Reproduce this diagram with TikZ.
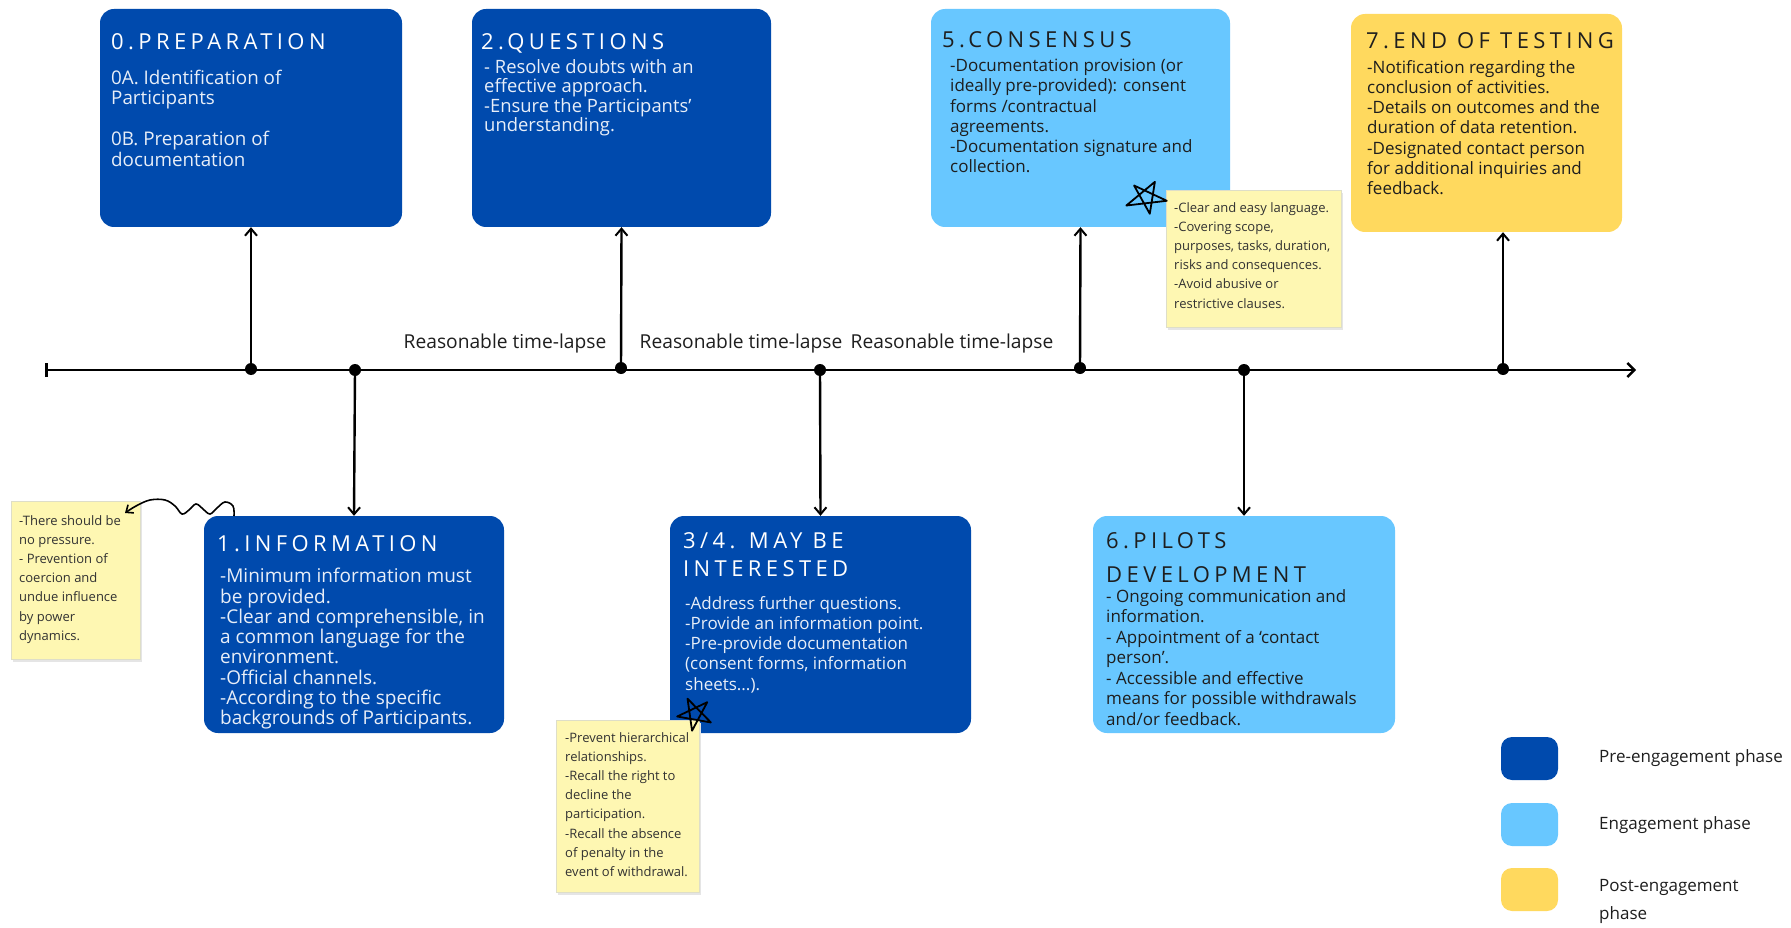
\documentclass[tikz,border=0pt]{standalone}
\usepackage{fontspec}
\setmainfont{Open Sans}
\usetikzlibrary{arrows.meta,calc}
\definecolor{preblue}{RGB}{0,74,173}
\definecolor{engblue}{RGB}{104,199,255}
\definecolor{postyellow}{RGB}{255,217,94}
\definecolor{notefill}{RGB}{254,247,178}
\definecolor{noteedge}{RGB}{222,222,200}
\definecolor{bodywhite}{RGB}{232,238,248}
\definecolor{ink}{RGB}{30,30,30}
\definecolor{noteink}{RGB}{50,50,50}
\newfontfamily\ttlfont[LetterSpace=20]{Open Sans}
\begin{document}
\begin{tikzpicture}[x=1pt,y=-1pt,
  phase/.style={rounded corners=14pt,draw=none,inner sep=0pt},
  ttl/.style={anchor=north west,inner sep=0pt,align=left,font=\ttlfont\fontsize{22}{28}\selectfont},
  body/.style={anchor=north west,inner sep=0pt,align=left,font=\fontsize{17}{20.2}\selectfont},
  notebox/.style={fill=notefill,draw=noteedge,line width=0.6pt,inner sep=0pt},
  notetxt/.style={anchor=north west,inner sep=0pt,align=left,text=noteink,font=\fontsize{13}{19.2}\selectfont},
  dot/.style={circle,fill=black,inner sep=0pt,minimum size=12pt},
  conn/.style={line width=2.4pt,-{Straight Barb[length=7pt,width=12pt,line width=2pt]}},
  lapse/.style={text=ink,font=\fontsize{19.2}{22}\selectfont,inner sep=0pt},
  legtxt/.style={anchor=west,text=ink,inner sep=0pt,align=left,font=\fontsize{17}{28}\selectfont},
  starpen/.style={line width=1.8pt,line join=round,black}
]
\useasboundingbox[fill=white] (0,0) rectangle (1791,928);

% timeline
\coordinate (tlA) at (45,370);
\coordinate (tlB) at (1636,370);
\draw[line width=2.6pt,{Bar[width=14pt,line width=2.6pt]}-{Straight Barb[length=7pt,width=14pt,line width=2.4pt]}] (tlA) -- (tlB);

% phase boxes
\node[phase,fill=preblue,minimum width=302pt,minimum height=218pt] (b0) at (251,118) {};
\node[phase,fill=preblue,minimum width=299pt,minimum height=218pt] (b2) at (621.5,118) {};
\node[phase,fill=engblue,minimum width=299pt,minimum height=218pt] (b5) at (1080.5,118) {};
\node[phase,fill=postyellow,minimum width=271pt,minimum height=218pt] (b7) at (1486.5,123) {};
\node[phase,fill=preblue,minimum width=300pt,minimum height=217pt] (b1) at (354,624.5) {};
\node[phase,fill=preblue,minimum width=301pt,minimum height=217pt] (b3) at (820.5,624.5) {};
\node[phase,fill=engblue,minimum width=302pt,minimum height=217pt] (b6) at (1244,624.5) {};

% box texts
\node[ttl,text=white] (t0) at (111,33) {0.PREPARATION};
\node[body,text=bodywhite,font=\fontsize{18.8}{20.2}\selectfont] (x0) at (111,70) {0A. Identification of\\Participants\\[21pt]0B. Preparation of\\documentation};

\node[ttl,text=white] (t2) at (481,33) {2.QUESTIONS};
\node[body,text=bodywhite,font=\fontsize{18.4}{19.5}\selectfont] (x2) at (484,59) {- Resolve doubts with an\\effective approach.\\-Ensure the Participants’\\understanding.};

\node[ttl,text=ink] (t5) at (942,31) {5.CONSENSUS};
\node[body,text=ink] (x5) at (950,59) {-Documentation provision (or\\ideally pre-provided): consent\\forms /contractual\\agreements.\\-Documentation signature and\\collection.};

\node[ttl,text=ink] (t7) at (1366,32) {7.END OF TESTING};
\node[body,text=ink] (x7) at (1367,60) {-Notification regarding the\\conclusion of activities.\\-Details on outcomes and the\\duration of data retention.\\-Designated contact person\\for additional inquiries and\\feedback.};

\node[ttl,text=white] (t1) at (217,535) {1.INFORMATION};
\node[body,text=bodywhite,font=\fontsize{19}{20.3}\selectfont] (x1) at (220,568) {-Minimum information must\\be provided.\\-Clear and comprehensible, in\\a common language for the\\environment.\\-Official channels.\\-According to the specific\\backgrounds of Participants.};

\node[ttl,text=white] (t3) at (683,532) {3/4. MAY BE\\INTERESTED};
\node[body,text=bodywhite] (x3) at (685,596) {-Address further questions.\\-Provide an information point.\\-Pre-provide documentation\\(consent forms, information\\sheets...).};

\node[ttl,text=ink,font=\ttlfont\fontsize{22}{34}\selectfont] (t6) at (1106,532) {6.PILOTS\\DEVELOPMENT};
\node[body,text=ink,font=\fontsize{17}{20.5}\selectfont] (x6) at (1106,589) {- Ongoing communication and\\information.\\- Appointment of a ‘contact\\person’.\\- Accessible and effective\\means for possible withdrawals\\and/or feedback.};

% dots on timeline
\node[dot] (d0) at (251,369) {};
\node[dot] (d1) at (355,370) {};
\node[dot] (d2) at (621,368) {};
\node[dot] (d3) at (820,370) {};
\node[dot] (d5) at (1080,368) {};
\node[dot] (d6) at (1244,370) {};
\node[dot] (d7) at (1503,369) {};

% connectors
\draw[conn] (d0.center) -- (b0.south);
\draw[conn] (d2.center) -- (b2.south);
\draw[conn] (d5.center) -- (b5.south);
\draw[conn] (d7.center) -- (d7 |- b7.south);
\draw[conn] (d1.center) -- (b1.north);
\draw[conn] (d3.center) -- (b3.north);
\draw[conn] (d6.center) -- (b6.north);

% time-lapse labels
\node[lapse] (l1) at (505,344) {Reasonable time-lapse};
\node[lapse] (l2) at (741,344) {Reasonable time-lapse};
\node[lapse] (l3) at (952,344) {Reasonable time-lapse};

% sticky notes
\fill[black!10] (13,504) rectangle (142,662);
\node[notebox,minimum width=129pt,minimum height=158pt] (nA) at (75.5,580) {};
\node[notetxt] (nAt) at (19,515) {-There should be\\no pressure.\\- Prevention of\\coercion and\\undue influence\\by power\\dynamics.};

\fill[black!10] (558,723) rectangle (701,895);
\node[notebox,minimum width=143pt,minimum height=172pt] (nB) at (627.5,806) {};
\node[notetxt] (nBt) at (565,732) {-Prevent hierarchical\\relationships.\\-Recall the right to\\decline the\\participation.\\-Recall the absence\\of penalty in the\\event of withdrawal.};

\fill[black!10] (1168,193) rectangle (1343,330);
\node[notebox,minimum width=175pt,minimum height=137pt] (nC) at (1253.5,258.5) {};
\node[notetxt] (nCt) at (1174,202) {-Clear and easy language.\\-Covering scope,\\purposes, tasks, duration,\\risks and consequences.\\-Avoid abusive or\\restrictive clauses.};

% hand-drawn stars
\coordinate (sB) at (695,714);
\draw[starpen] ($(sB)+(100:17)$) -- ($(sB)+(244:17)$) -- ($(sB)+(28:18)$) -- ($(sB)+(172:18)$) -- ($(sB)+(316:17)$) -- cycle;
\coordinate (sC) at (1147,198);
\draw[starpen] ($(sC)+(80:16)$) -- ($(sC)+(224:18)$) -- ($(sC)+(8:20)$) -- ($(sC)+(160:22)$) -- ($(sC)+(296:18)$) -- cycle;

% curly connector from box 1 to note A
\coordinate (sqS) at (234,516);
\coordinate (sqE) at (125,513);
\draw[line width=1.6pt,-{Straight Barb[length=6pt,width=10pt,line width=1.6pt]}] plot[smooth,tension=0.6] coordinates {(sqS) (233,506) (225,502) (217,508) (210,514) (203,509) (196,504) (189,510) (182,514) (175,506) (165,500) (150,500) (136,506) (sqE)};

% legend
\node[phase,fill=preblue,minimum width=57pt,minimum height=43pt,rounded corners=11pt] (g1) at (1529.5,758.5) {};
\node[phase,fill=engblue,minimum width=57pt,minimum height=43pt,rounded corners=11pt] (g2) at (1529.5,824.5) {};
\node[phase,fill=postyellow,minimum width=57pt,minimum height=43pt,rounded corners=11pt] (g3) at (1529.5,889.5) {};
\node[legtxt] (g1t) at (1599,758) {Pre-engagement phase};
\node[legtxt] (g2t) at (1599,825) {Engagement phase};
\node[legtxt,anchor=north west] (g3t) at (1599,879) {Post-engagement\\phase};
\end{tikzpicture}
\end{document}
